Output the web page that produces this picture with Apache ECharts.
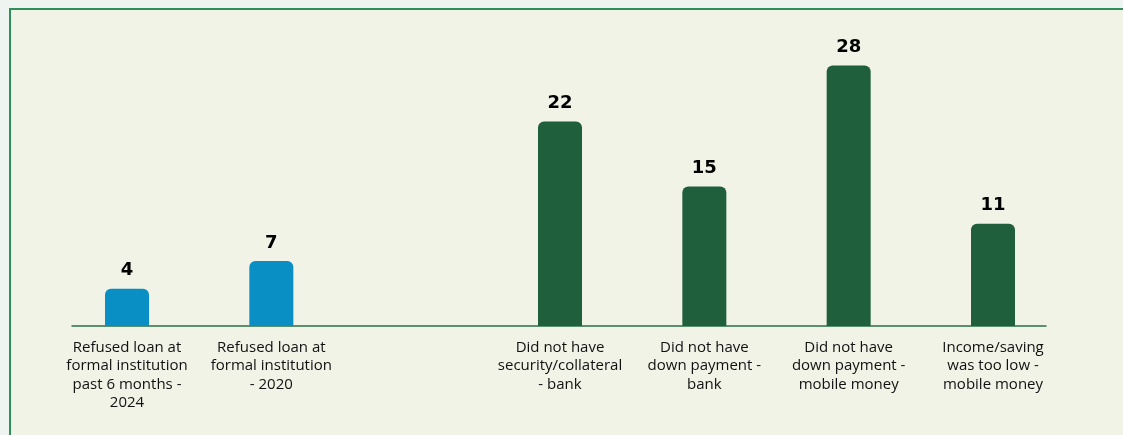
<!DOCTYPE html>
<html>
<head>
<meta charset="utf-8">
<script src="https://cdn.jsdelivr.net/npm/echarts@6/dist/echarts.min.js"></script>
<style>
  html, body { margin: 0; padding: 0; width: 1123px; height: 435px; overflow: hidden; background: #eef4ef; }
  #frame { position: absolute; left: 9px; top: 8px; width: 1200px; height: 500px; background: #f1f3e6; border-left: 2px solid #2e8f5a; border-top: 2px solid #2e8f5a; box-sizing: border-box; }
  #chart { position: absolute; left: 0; top: 0; width: 1123px; height: 435px; }
</style>
</head>
<body>
<div id="frame"></div>
<div id="chart"></div>
<script>
const categories = [
  'Refused loan at\nformal institution\npast 6 months -\n2024',
  'Refused loan at\nformal institution\n- 2020',
  '',
  'Did not have\nsecurity/collateral\n- bank',
  'Did not have\ndown payment -\nbank',
  'Did not have\ndown payment -\nmobile money',
  'Income/saving\nwas too low -\nmobile money'
];
const refusedValues = [4, 7, null, null, null, null, null];
const reasonValues  = [null, null, null, 22, 15, 28, 11];

const chart = echarts.init(document.getElementById('chart'), null, { renderer: 'canvas' });

const labelStyle = {
  show: true,
  position: 'top',
  distance: 9,
  color: '#000',
  fontFamily: 'DejaVu Sans',
  fontWeight: 'bold',
  fontSize: 18
};

chart.setOption({
  backgroundColor: 'transparent',
  animation: false,
  grid: [
    { left: 127, right: 130, top: 47, bottom: 109, containLabel: false },
    { left: 72, right: 77, top: 47, bottom: 109, containLabel: false }
  ],
  xAxis: [
    {
      type: 'category',
      gridIndex: 0,
      data: categories,
      boundaryGap: false,
      axisLine: { show: false },
      axisTick: { show: false },
      axisLabel: {
        interval: 0,
        margin: 12,
        color: '#111',
        fontFamily: 'Open Sans',
        fontSize: 15,
        lineHeight: 18.5
      }
    },
    {
      type: 'category',
      gridIndex: 1,
      data: ['', ''],
      axisLine: { show: true, lineStyle: { color: '#2a7048', width: 1.5 } },
      axisTick: { show: false },
      axisLabel: { show: false }
    }
  ],
  yAxis: [
    { type: 'value', gridIndex: 0, min: 0, max: 30, show: false, splitLine: { show: false } },
    { type: 'value', gridIndex: 1, min: 0, max: 30, show: false, splitLine: { show: false } }
  ],
  series: [
    {
      name: 'Refused loan',
      type: 'bar',
      xAxisIndex: 0,
      yAxisIndex: 0,
      stack: 'all',
      barWidth: 44,
      data: refusedValues,
      itemStyle: { color: '#0a8fc4', borderRadius: [6, 6, 0, 0] },
      label: labelStyle
    },
    {
      name: 'Reasons',
      type: 'bar',
      xAxisIndex: 0,
      yAxisIndex: 0,
      stack: 'all',
      barWidth: 44,
      data: reasonValues,
      itemStyle: { color: '#1f5f3c', borderRadius: [6, 6, 0, 0] },
      label: labelStyle
    }
  ]
});
</script>
</body>
</html>
